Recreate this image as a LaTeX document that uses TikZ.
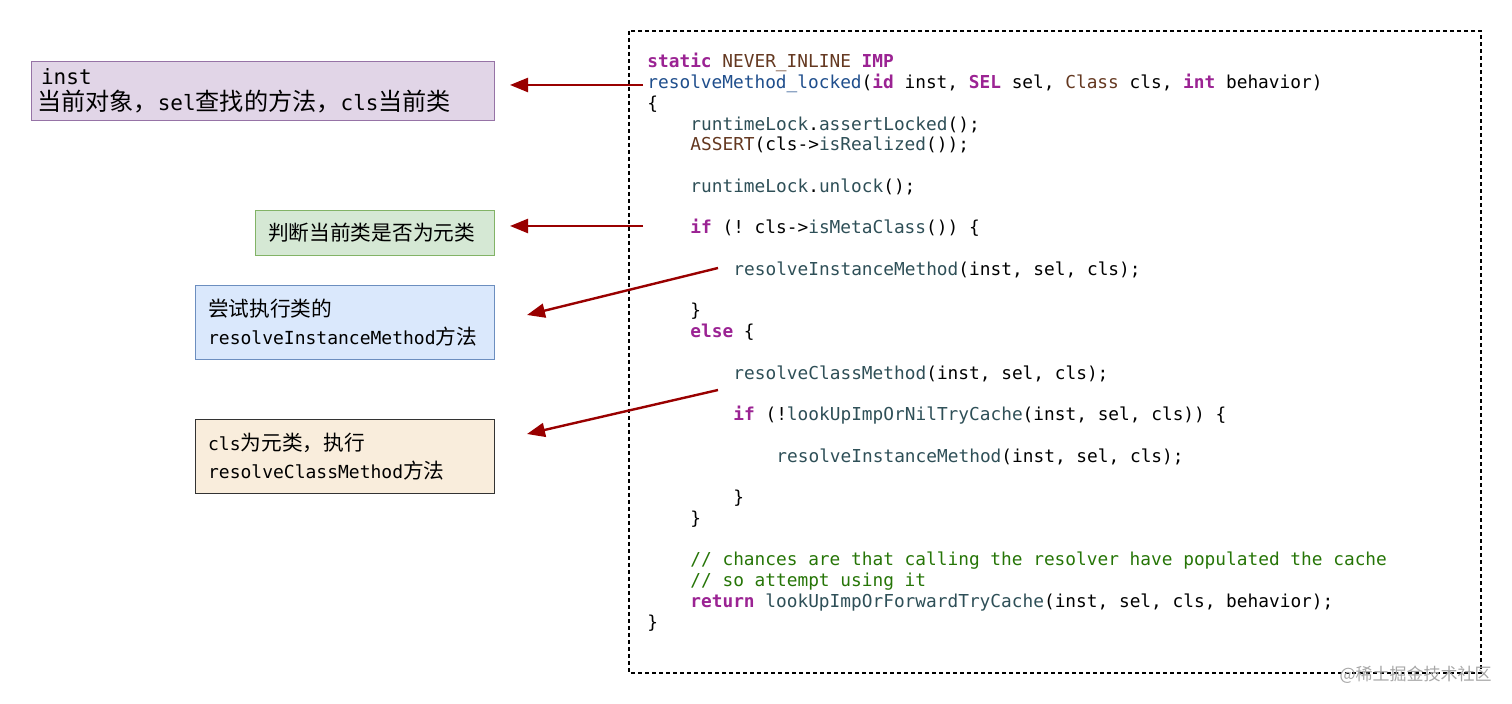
\documentclass[tikz,border=0pt]{standalone}
\usepackage{fontspec}
\setmonofont{DejaVu Sans Mono}
\newfontfamily\cjk[Scale=1.15]{Noto Sans CJK SC}
\newfontfamily\cjkw{Noto Sans CJK SC}
\usetikzlibrary{arrows.meta}
\definecolor{kw}{HTML}{9B2393}
\definecolor{mac}{HTML}{643820}
\definecolor{fn}{HTML}{2E4F57}
\definecolor{dn}{HTML}{1F4E8C}
\definecolor{cm}{HTML}{267507}
\definecolor{arr}{HTML}{990000}
\newcommand{\K}[1]{\textcolor{kw}{\bfseries #1}}
\newcommand{\M}[1]{\textcolor{mac}{#1}}
\newcommand{\F}[1]{\textcolor{fn}{#1}}
\tikzset{
 codeline/.style={anchor=base west,inner sep=0,font=\ttfamily\fontsize{8.9pt}{10pt}\selectfont},
 lbl/.style={draw,line width=0.6pt,align=left,anchor=north west,inner sep=0,font=\ttfamily\fontsize{9pt}{14pt}\selectfont},
 arrow/.style={draw=arr,line width=1.2pt,-{Triangle[length=9pt,width=7pt]}}
}
\begin{document}
\begin{tikzpicture}[x=0.5pt,y=-0.5pt]
\useasboundingbox (0,0) rectangle (1512,704);
\draw[dashed,line width=0.6pt,dash pattern=on 2pt off 1.5pt] (629,31) rectangle (1481,673);
\def\L#1#2#3{\node[codeline] (l#1) at (647+43*#2,68+20.75*#1) {#3};}
\L{0}{0}{\K{static} \M{NEVER\_INLINE} \K{IMP}}
\L{1}{0}{\textcolor{dn}{resolveMethod\_locked}(\K{id} inst, \K{SEL} sel, \M{Class} cls, \K{int} behavior)}
\L{2}{0}{\{}
\L{3}{1}{\F{runtimeLock}.\F{assertLocked}();}
\L{4}{1}{\M{ASSERT}(cls->\F{isRealized}());}
\L{6}{1}{\F{runtimeLock}.\F{unlock}();}
\L{8}{1}{\K{if} (! cls->\F{isMetaClass}()) \{}
\L{10}{2}{\F{resolveInstanceMethod}(inst, sel, cls);}
\L{12}{1}{\}}
\L{13}{1}{\K{else} \{}
\L{15}{2}{\F{resolveClassMethod}(inst, sel, cls);}
\L{17}{2}{\K{if} (!\F{lookUpImpOrNilTryCache}(inst, sel, cls)) \{}
\L{19}{3}{\F{resolveInstanceMethod}(inst, sel, cls);}
\L{21}{2}{\}}
\L{22}{1}{\}}
\L{24}{1}{\textcolor{cm}{// chances are that calling the resolver have populated the cache}}
\L{25}{1}{\textcolor{cm}{// so attempt using it}}
\L{26}{1}{\K{return} \F{lookUpImpOrForwardTryCache}(inst, sel, cls, behavior);}
\L{27}{0}{\}}
% boxes
\node[lbl,draw={rgb,255:red,150;green,115;blue,166},fill={rgb,255:red,225;green,213;blue,231},minimum width=231.5pt,minimum height=29.5pt,text width=226pt,font=\ttfamily\fontsize{10.5pt}{13pt}\selectfont] (b1) at (31,61) {\hspace*{2pt}inst {\cjk 当前对象，}sel{\cjk 查找的方法，}cls{\cjk 当前类}};
\node[lbl,draw={rgb,255:red,130;green,179;blue,102},fill={rgb,255:red,213;green,232;blue,212},minimum width=119.5pt,minimum height=22.5pt,text width=115pt] (b2) at (255,210) {\hspace*{4pt}{\cjk 判断当前类是否为元类}};
\node[lbl,draw={rgb,255:red,108;green,142;blue,191},fill={rgb,255:red,218;green,232;blue,252},minimum width=149.5pt,minimum height=37pt,text width=145pt] (b3) at (195,285) {\hspace*{4pt}{\cjk 尝试执行类的}\\\hspace*{4pt}resolveInstanceMethod{\cjk 方法}};
\node[lbl,draw={rgb,255:red,51;green,51;blue,51},fill={rgb,255:red,249;green,237;blue,220},minimum width=149.5pt,minimum height=37pt,text width=145pt] (b4) at (195,419) {\hspace*{4pt}cls{\cjk 为元类，执行}\\\hspace*{4pt}resolveClassMethod{\cjk 方法}};
% arrow anchors
\coordinate (s1) at (643,85);
\coordinate (t1) at (510,85);
\coordinate (s2) at (643,226);
\coordinate (t2) at (510,226);
\coordinate (s3) at (718,268);
\coordinate (t3) at (527,315);
\coordinate (s4) at (718,390);
\coordinate (t4) at (527,434);
\draw[arrow] (s1) -- (t1);
\draw[arrow] (s2) -- (t2);
\draw[arrow] (s3) -- (t3);
\draw[arrow] (s4) -- (t4);
\node[anchor=east,inner sep=0,text=gray!70,font=\cjkw\fontsize{8.5pt}{10pt}\selectfont] (wm) at (1492,675) {@稀土掘金技术社区};
\end{tikzpicture}
\end{document}
